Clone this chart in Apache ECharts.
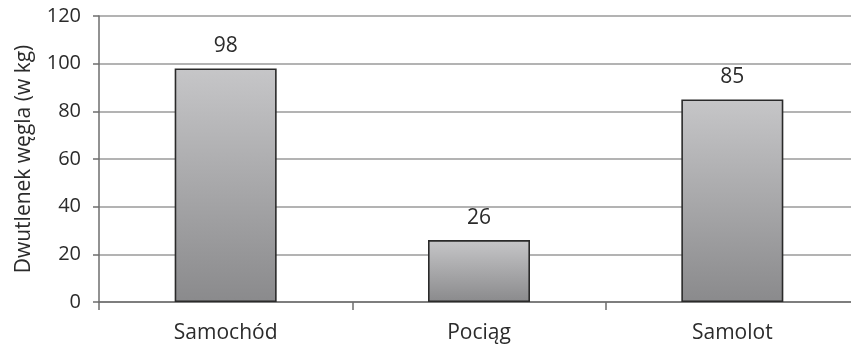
<!DOCTYPE html>
<html>
<head>
<meta charset="utf-8">
<script src="https://cdn.jsdelivr.net/npm/echarts@6/dist/echarts.min.js"></script>
<style>
  html, body { margin: 0; padding: 0; background: #fff; }
  #chart { width: 851px; height: 348px; }
</style>
</head>
<body>
<div id="chart"></div>
<script>
// Emisja dwutlenku węgla według środka transportu
const categories = ['Samochód', 'Pociąg', 'Samolot'];
const emissions = [98, 26, 85];
const yTicks = [0, 20, 40, 60, 80, 100, 120];

const font = '"Open Sans", "Liberation Sans", sans-serif';
const chart = echarts.init(document.getElementById('chart'));

chart.setOption({
  animation: false,
  grid: { left: 99, top: 16, width: 760, height: 286, containLabel: false, outerBoundsMode: 'none' },
  xAxis: {
    type: 'category',
    data: categories,
    axisLine: { lineStyle: { color: '#6e6e6e', width: 1.5 } },
    axisTick: { show: true, length: 8, alignWithLabel: false, lineStyle: { color: '#6e6e6e', width: 1.5 } },
    axisLabel: { color: '#2b2b2b', fontFamily: font, fontSize: 21, margin: 21 }
  },
  yAxis: {
    type: 'value',
    min: yTicks[0],
    max: yTicks[yTicks.length - 1],
    interval: 20,
    name: 'Dwutlenek węgla (w kg)',
    nameLocation: 'middle',
    nameGap: 64,
    nameTextStyle: { color: '#2b2b2b', fontFamily: font, fontSize: 21 },
    axisLine: { show: true, lineStyle: { color: '#6e6e6e', width: 1.5 } },
    axisTick: { show: true, length: 6, lineStyle: { color: '#6e6e6e', width: 1.5 } },
    splitLine: { lineStyle: { color: '#9a9a9a', width: 1.5 } },
    axisLabel: { color: '#2b2b2b', fontFamily: font, fontSize: 20, margin: 18 }
  },
  series: [{
    type: 'bar',
    data: emissions,
    barWidth: 102,
    itemStyle: {
      color: new echarts.graphic.LinearGradient(0, 0, 0, 1, [
        { offset: 0, color: '#c6c6c8' },
        { offset: 1, color: '#8a8a8c' }
      ]),
      borderColor: '#2a2a2a',
      borderWidth: 1.6
    },
    label: {
      show: true,
      position: 'top',
      distance: 12,
      color: '#2b2b2b',
      fontFamily: font,
      fontSize: 21
    }
  }]
});
</script>
</body>
</html>
